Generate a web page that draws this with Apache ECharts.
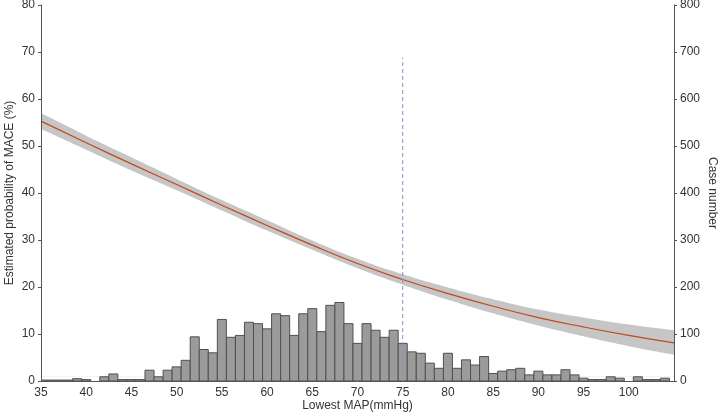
<!DOCTYPE html>
<html>
<head>
<meta charset="utf-8">
<script src="https://cdn.jsdelivr.net/npm/echarts@6/dist/echarts.min.js"></script>
<style>
    html, body { margin: 0; padding: 0; background: #fff; }
    #chart { width: 720px; height: 416px; }
</style>
</head>
<body>
<div id="chart"></div>
<script>
// 曲线数据
const mapValues = [35, 40, 45, 50, 55, 60, 65, 70, 75, 80, 85, 90, 95, 100, 105]
const probability = [55.3, 50.7, 46.2, 41.8, 37.4, 33.1, 28.9, 25.0, 21.6, 18.6, 15.9, 13.5, 11.5, 9.7, 8.1]
const upperCI = [57.0, 52.2, 47.6, 43.0, 38.5, 34.2, 29.9, 26.0, 22.7, 19.9, 17.4, 15.2, 13.5, 12.0, 10.8]
const lowerCI = [53.6, 49.2, 44.8, 40.6, 36.3, 32.0, 27.9, 24.0, 20.5, 17.3, 14.4, 11.8, 9.5, 7.4, 5.6]

// 直方图：每个 mmHg 的病例数
const binCenters = []
for (let v = 35; v <= 104; v++) binCenters.push(v)
const caseCounts = [
    2, 2, 2, 2, 5, 3, 0, 9, 15, 3,
    3, 3, 23, 9, 23, 30, 44, 94, 67, 60,
    131, 93, 97, 125, 122, 111, 143, 139, 97, 143,
    154, 105, 161, 167, 122, 80, 122, 108, 93, 108,
    80, 62, 59, 38, 27, 59, 27, 45, 34, 52,
    16, 21, 24, 27, 13, 21, 13, 13, 24, 13,
    6, 3, 3, 9, 6, 0, 9, 3, 3, 6,
]

// 截断线
const cutoffMap = 75
const cutoffTop = 68.8

const leftTicks = [0, 10, 20, 30, 40, 50, 60, 70, 80]
const rightTicks = [0, 100, 200, 300, 400, 500, 600, 700, 800]

const font = 'Liberation Sans, Arial, sans-serif'

;(function () {
    const mychart = echarts.init(document.getElementById('chart'))

    const option = {
        animation: false,
        grid: { left: 41, right: 46, top: 5, bottom: 35, outerBoundsMode: 'none', containLabel: false },
        xAxis: {
            type: 'value',
            min: 35,
            max: 105,
            interval: 5,
            z: 10,
            name: 'Lowest MAP(mmHg)',
            nameLocation: 'middle',
            nameGap: 19,
            nameMoveOverlap: false,
            nameTextStyle: { color: '#333', fontSize: 12, fontFamily: font },
            axisLine: { lineStyle: { color: '#555' } },
            axisTick: { show: false },
            splitLine: { show: false },
            axisLabel: { color: '#333', fontSize: 12, fontFamily: font, margin: 6, showMaxLabel: false },
        },
        yAxis: [
            {
                type: 'value',
                min: leftTicks[0],
                max: leftTicks[leftTicks.length - 1],
                interval: 10,
                z: 10,
                name: 'Estimated probability of MACE (%)',
                nameLocation: 'middle',
                nameGap: 25,
                nameMoveOverlap: false,
                nameTextStyle: { color: '#333', fontSize: 12, fontFamily: font },
                axisLine: { show: true, lineStyle: { color: '#555' } },
                axisTick: { show: true, length: 3, lineStyle: { color: '#555' } },
                splitLine: { show: false },
                axisLabel: { color: '#333', fontSize: 12, fontFamily: font, margin: 6 },
            },
            {
                type: 'value',
                position: 'right',
                min: rightTicks[0],
                max: rightTicks[rightTicks.length - 1],
                interval: 100,
                z: 10,
                name: 'Case number',
                nameLocation: 'middle',
                nameRotate: -90,
                nameGap: 32,
                nameMoveOverlap: false,
                nameTextStyle: { color: '#333', fontSize: 12, fontFamily: font },
                axisLine: { show: true, lineStyle: { color: '#555' } },
                axisTick: { show: true, length: 3, lineStyle: { color: '#555' } },
                splitLine: { show: false },
                axisLabel: { color: '#333', fontSize: 12, fontFamily: font, margin: 6 },
            },
        ],
        series: [
            {
                // 置信区间上界（灰色填充）
                type: 'line',
                data: mapValues.map((x, i) => [x, upperCI[i]]),
                smooth: true,
                symbol: 'none',
                lineStyle: { width: 0 },
                areaStyle: { color: '#c6c6c6', opacity: 1, origin: 1 },
                z: 1,
            },
            {
                // 置信区间下界（白色覆盖）
                type: 'line',
                data: mapValues.map((x, i) => [x, lowerCI[i]]),
                smooth: true,
                symbol: 'none',
                lineStyle: { width: 0 },
                areaStyle: { color: '#ffffff', opacity: 1, origin: 1 },
                z: 2,
            },
            {
                // 估计概率
                type: 'line',
                data: mapValues.map((x, i) => [x, probability[i]]),
                smooth: true,
                symbol: 'none',
                lineStyle: { color: '#c4461c', width: 1.2 },
                z: 3,
            },
            {
                // 直方图
                name: 'cases',
                type: 'custom',
                yAxisIndex: 1,
                clip: true,
                data: binCenters.map((x, i) => [x, caseCounts[i]]),
                renderItem: function (params, api) {
                    const x = api.value(0)
                    const n = api.value(1)
                    if (!n) return
                    const p1 = api.coord([x - 0.5, n])
                    const p2 = api.coord([x + 0.5, 0])
                    const shape = echarts.graphic.clipRectByRect(
                        { x: p1[0], y: p1[1], width: p2[0] - p1[0], height: p2[1] - p1[1] },
                        {
                            x: params.coordSys.x,
                            y: params.coordSys.y,
                            width: params.coordSys.width,
                            height: params.coordSys.height,
                        }
                    )
                    return shape && {
                        type: 'rect',
                        shape: shape,
                        style: { fill: '#9b9b9b', stroke: '#505050', lineWidth: 1 },
                    }
                },
                z: 4,
            },
            {
                // 截断线
                type: 'line',
                data: [[cutoffMap, 0], [cutoffMap, cutoffTop]],
                symbol: 'none',
                lineStyle: { color: '#7f97bd', width: 1, type: [4, 3] },
                z: 5,
            },
        ],
    }

    mychart.setOption(option)
})()
</script>
</body>
</html>
